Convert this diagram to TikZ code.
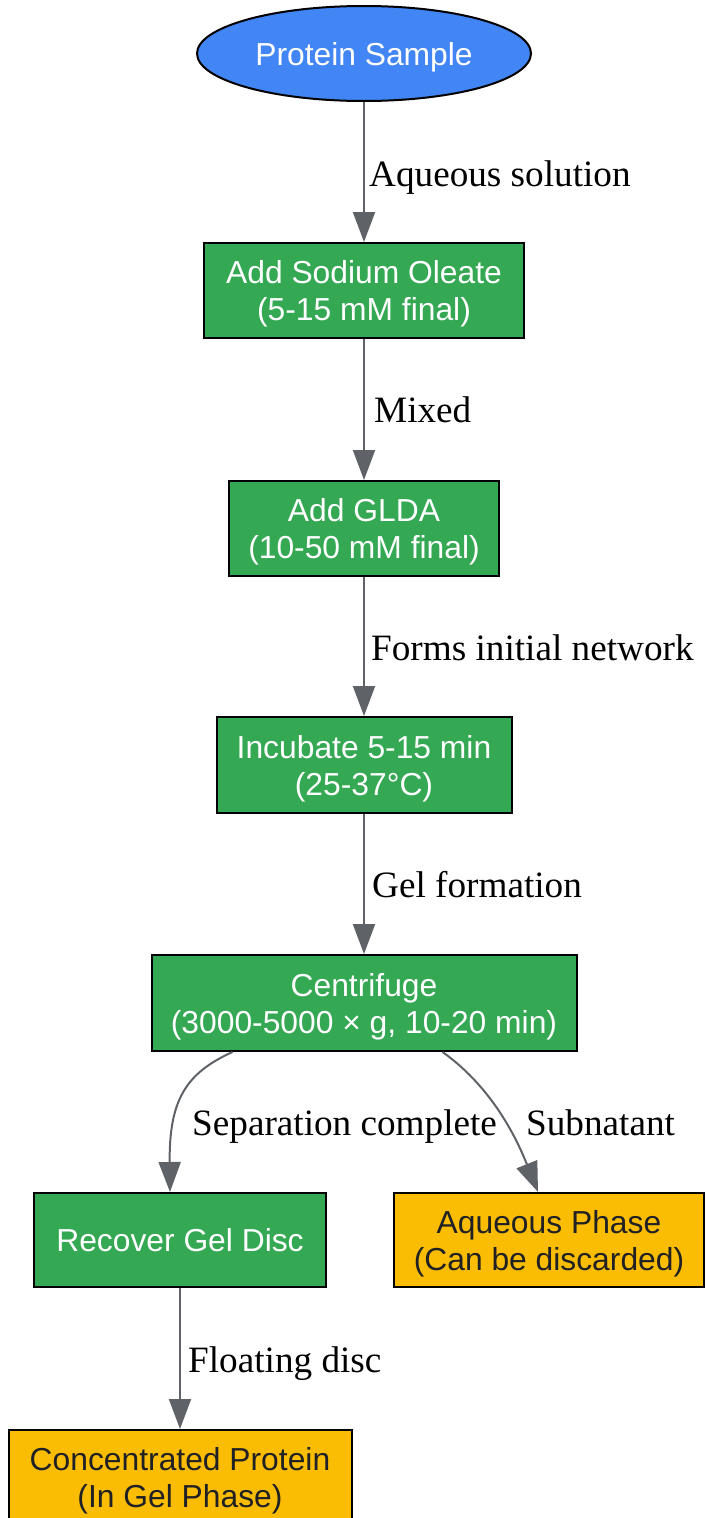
\documentclass[tikz,border=0pt]{standalone}
\usepackage{fontspec}
\setmainfont{Liberation Serif}
\newfontfamily\nodefont{Liberation Sans}
\usetikzlibrary{shapes.geometric,arrows.meta}
\definecolor{gblue}{HTML}{4285F4}
\definecolor{ggreen}{HTML}{34A853}
\definecolor{gyellow}{HTML}{FBBC04}
\definecolor{edgegray}{HTML}{5F6368}
\definecolor{darktext}{HTML}{202124}
\begin{document}
\begin{tikzpicture}[x=1pt,y=-1pt,
  basenode/.style={draw=black, line width=2pt, inner sep=0pt, align=center, text depth=0pt,
    font=\nodefont\fontsize{31.8}{37}\selectfont},
  greenbox/.style={basenode, rectangle, fill=ggreen, text=white},
  yellowbox/.style={basenode, rectangle, fill=gyellow, text=darktext},
  startnode/.style={basenode, ellipse, fill=gblue, text=white},
  edge/.style={draw=edgegray, line width=2pt, -{Triangle[length=30pt,width=22pt]}},
  lbl/.style={font=\fontsize{37.2}{44}\selectfont, anchor=base west, inner sep=0pt, text=black}]
\useasboundingbox (0,0) rectangle (706,1518);
% nodes
\node[startnode, minimum width=334pt, minimum height=95pt] (ps) at (364,53.5) {Protein Sample};
\node[greenbox, minimum width=320pt, minimum height=95pt] (ol) at (364,290.5) {Add Sodium Oleate\\(5-15 mM final)};
\node[greenbox, minimum width=270pt, minimum height=95pt] (gl) at (364,528.5) {Add GLDA\\(10-50 mM final)};
\node[greenbox, minimum width=295pt, minimum height=96pt] (in) at (364,765) {Incubate 5-15 min\\(25-37°C)};
\node[greenbox, minimum width=425pt, minimum height=96pt] (cf) at (364,1003) {Centrifuge\\(3000-5000 × g, 10-20 min)};
\node[greenbox, minimum width=292pt, minimum height=94pt] (rg) at (180,1240) {Recover Gel Disc};
\node[yellowbox, minimum width=310pt, minimum height=94pt] (aq) at (549,1240) {Aqueous Phase\\(Can be discarded)};
\node[yellowbox, minimum width=343pt, minimum height=95pt] (cp) at (180,1477.5) {Concentrated Protein\\(In Gel Phase)};
% edges
\draw[edge] (ps.south) -- (ol.north);
\draw[edge] (ol.south) -- (gl.north);
\draw[edge] (gl.south) -- (in.north);
\draw[edge] (in.south) -- (cf.north);
\draw[edge] ([xshift=82pt]cf.south west) .. controls (186,1073) and (169,1100) .. ([xshift=-10pt]rg.north);
\draw[edge] ([xshift=292pt]cf.south west) .. controls (475,1075) and (506,1112) .. ([xshift=145pt]aq.north west);
\draw[edge] (rg.south) -- (cp.north);
% labels
\node[lbl] (l1) at (369,186) {Aqueous solution};
\node[lbl] (l2) at (374,422) {Mixed};
\node[lbl] (l3) at (371,660) {Forms initial network};
\node[lbl] (l4) at (372,897) {Gel formation};
\node[lbl] (l5) at (192,1135) {Separation complete};
\node[lbl] (l6) at (526,1135) {Subnatant};
\node[lbl] (l7) at (188,1372) {Floating disc};
\end{tikzpicture}
\end{document}
